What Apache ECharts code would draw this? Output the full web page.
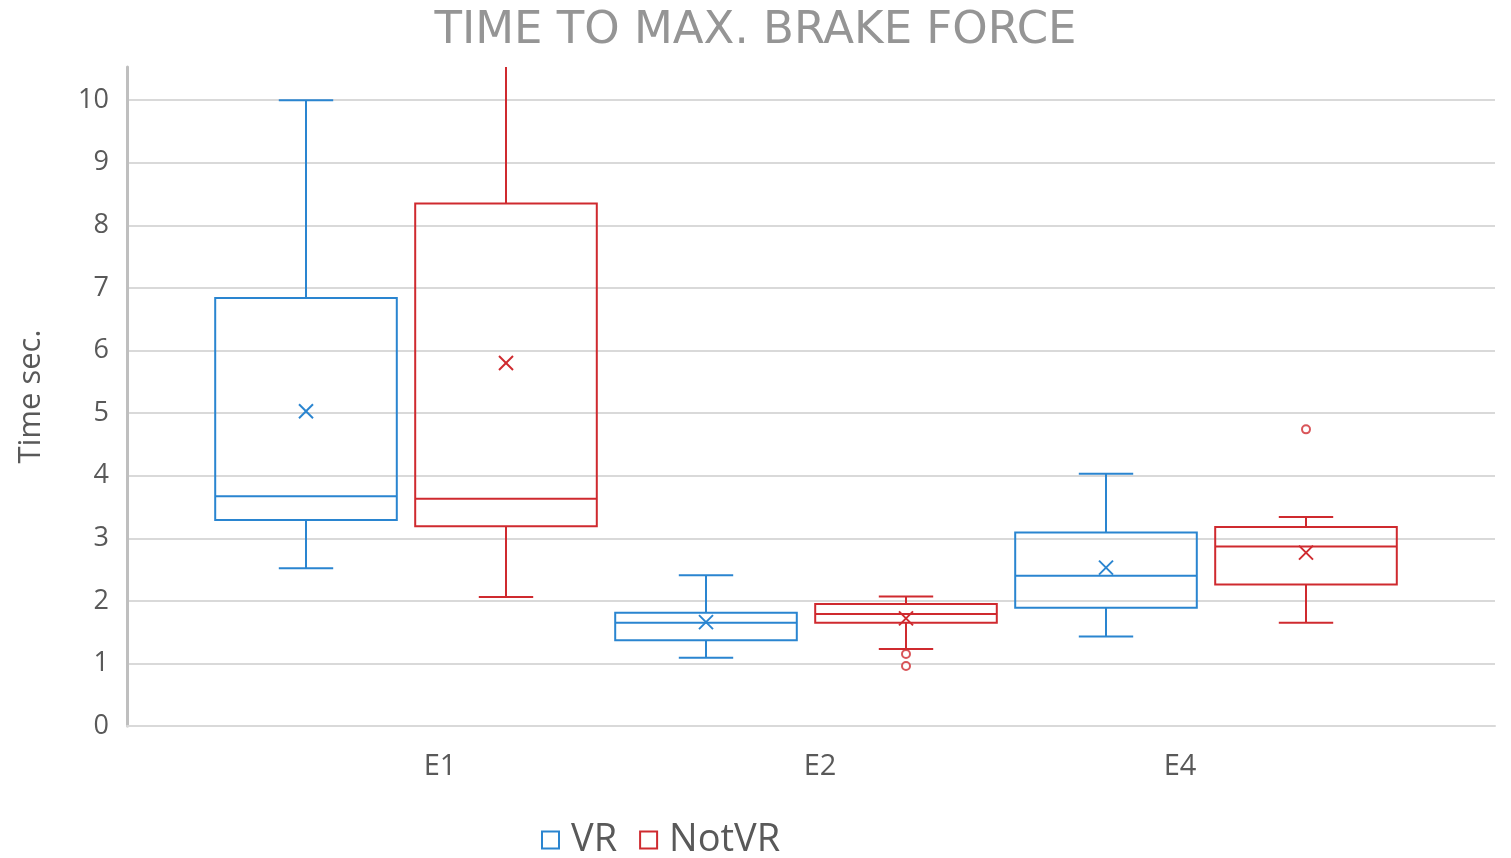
<!DOCTYPE html>
<html>
<head>
<meta charset="utf-8">
<script src="https://cdn.jsdelivr.net/npm/echarts@6/dist/echarts.min.js"></script>
<style>
  html, body { margin: 0; padding: 0; background: #fff; }
  #main { width: 1511px; height: 858px; }
</style>
</head>
<body>
<div id="main"></div>
<script>
var categories = ['E1', 'E2', 'E4'];
var seriesNames = ['VR', 'NotVR'];

// five-number summaries + mean, one value per category
var vrLow    = [2.52, 1.09, 1.43];
var vrQ1     = [3.29, 1.37, 1.89];
var vrMedian = [3.67, 1.65, 2.40];
var vrQ3     = [6.84, 1.81, 3.09];
var vrHigh   = [10.0, 2.41, 4.03];
var vrMean   = [5.03, 1.66, 2.53];

var notVrLow    = [2.06, 1.23, 1.65];
var notVrQ1     = [3.19, 1.65, 2.26];
var notVrMedian = [3.63, 1.79, 2.87];
var notVrQ3     = [8.35, 1.95, 3.18];
var notVrHigh   = [11.2, 2.07, 3.34];
var notVrMean   = [5.80, 1.72, 2.77];

// outliers: [category index, value]
var notVrOutliers = [[1, 1.15], [1, 0.96], [2, 4.74]];
var vrOutliers = [];

var yTicks = [0, 1, 2, 3, 4, 5, 6, 7, 8, 9, 10];

var blue = '#2a85d0';
var red = '#cf2a2f';
var grey = '#595959';

var myChart = echarts.init(document.getElementById('main'));

// group centre = index + 1, series shifted left/right
var offsets = [-0.25, 0.25];
var boxHalf = 0.227;
var capHalf = 0.068;

function boxData(k, low, q1, med, q3, high, mean) {
    return categories.map(function (c, i) {
        return [i + 1 + offsets[k], low[i], q1[i], med[i], q3[i], high[i], mean[i]];
    });
}

function outlierData(k, list) {
    return list.map(function (o) {
        return [o[0] + 1 + offsets[k], o[1]];
    });
}

function renderBox(color) {
    return function (params, api) {
        var x = api.value(0);
        var top = params.coordSys.y;
        function pt(xv, yv) {
            var p = api.coord([xv, yv]);
            p[1] = Math.max(p[1], top);
            return p;
        }
        var lowP = pt(x, api.value(1));
        var q1P = pt(x, api.value(2));
        var medP = pt(x, api.value(3));
        var q3P = pt(x, api.value(4));
        var highP = pt(x, api.value(5));
        var meanP = pt(x, api.value(6));
        var left = api.coord([x - boxHalf, 0])[0];
        var right = api.coord([x + boxHalf, 0])[0];
        var capL = api.coord([x - capHalf, 0])[0];
        var capR = api.coord([x + capHalf, 0])[0];
        var style = { stroke: color, lineWidth: 2, fill: null };
        var children = [
            { type: 'line', shape: { x1: lowP[0], y1: lowP[1], x2: q1P[0], y2: q1P[1] }, style: style },
            { type: 'line', shape: { x1: q3P[0], y1: q3P[1], x2: highP[0], y2: highP[1] }, style: style },
            { type: 'line', shape: { x1: capL, y1: lowP[1], x2: capR, y2: lowP[1] }, style: style },
            { type: 'rect', shape: { x: left, y: q3P[1], width: right - left, height: q1P[1] - q3P[1] }, style: style },
            { type: 'line', shape: { x1: left, y1: medP[1], x2: right, y2: medP[1] }, style: style },
            { type: 'line', shape: { x1: meanP[0] - 7, y1: meanP[1] - 7, x2: meanP[0] + 7, y2: meanP[1] + 7 }, style: style },
            { type: 'line', shape: { x1: meanP[0] - 7, y1: meanP[1] + 7, x2: meanP[0] + 7, y2: meanP[1] - 7 }, style: style }
        ];
        // whisker cap only when it is inside the plot
        if (highP[1] > top + 1) {
            children.push({ type: 'line', shape: { x1: capL, y1: highP[1], x2: capR, y2: highP[1] }, style: style });
        }
        return { type: 'group', children: children };
    };
}

var labelPos = [1.085, 2.035, 2.935];

var option = {
    backgroundColor: '#fff',
    animation: false,
    title: {
        text: 'TIME TO MAX. BRAKE FORCE',
        left: 'center',
        top: 4,
        textStyle: {
            fontFamily: 'DejaVu Sans',
            fontSize: 45,
            fontWeight: 'normal',
            color: '#959595'
        }
    },
    legend: {
        left: 536,
        top: 816,
        icon: 'rect',
        itemWidth: 17,
        itemHeight: 17,
        itemGap: 22,
        textStyle: { fontFamily: 'Open Sans', fontSize: 38, color: grey, padding: [0, 0, 0, 7] },
        data: [
            { name: 'VR', itemStyle: { color: '#fff', borderColor: blue, borderWidth: 2 } },
            { name: 'NotVR', itemStyle: { color: '#fff', borderColor: red, borderWidth: 2 } }
        ]
    },
    grid: { left: 127, right: 16, top: 67, bottom: 132 },
    xAxis: {
        type: 'value',
        min: 0.3025,
        max: 3.7225,
        axisLine: { show: true, onZero: false, lineStyle: { color: '#d9d9d9', width: 2 } },
        axisTick: { show: false },
        splitLine: { show: false },
        axisLabel: {
            customValues: labelPos,
            formatter: function (v) {
                var i = labelPos.indexOf(v);
                return i >= 0 ? categories[i] : '';
            },
            margin: 26,
            fontFamily: 'Open Sans',
            fontSize: 29,
            color: grey
        }
    },
    yAxis: {
        type: 'value',
        min: 0,
        max: 10.53,
        interval: 1,
        name: 'Time sec.',
        nameLocation: 'middle',
        nameGap: 80,
        nameTextStyle: { fontFamily: 'Open Sans', fontSize: 31, color: grey },
        axisLine: { show: true, lineStyle: { color: '#bfbfbf', width: 3 } },
        axisTick: { show: false },
        splitLine: { show: true, showMaxLine: false, lineStyle: { color: '#d9d9d9', width: 2 } },
        axisLabel: {
            showMaxLabel: false,
            margin: 18,
            fontFamily: 'Open Sans',
            fontSize: 27,
            color: grey,
            formatter: function (v) { return yTicks.indexOf(v) >= 0 ? String(v) : ''; }
        }
    },
    series: [
        {
            name: 'VR', type: 'custom', itemStyle: { color: blue },
            renderItem: renderBox(blue),
            encode: { x: 0, y: [1, 2, 3, 4, 5] },
            data: boxData(0, vrLow, vrQ1, vrMedian, vrQ3, vrHigh, vrMean)
        },
        {
            name: 'NotVR', type: 'custom', itemStyle: { color: red },
            renderItem: renderBox(red),
            encode: { x: 0, y: [1, 2, 3, 4, 5] },
            data: boxData(1, notVrLow, notVrQ1, notVrMedian, notVrQ3, notVrHigh, notVrMean)
        },
        {
            name: 'VR', type: 'scatter', symbol: 'circle', symbolSize: 8,
            itemStyle: { color: '#fff', borderColor: blue, borderWidth: 2 },
            data: outlierData(0, vrOutliers)
        },
        {
            name: 'NotVR', type: 'scatter', symbol: 'circle', symbolSize: 8,
            itemStyle: { color: '#fff', borderColor: red, borderWidth: 2 },
            data: outlierData(1, notVrOutliers)
        }
    ]
};

myChart.setOption(option);
</script>
</body>
</html>
